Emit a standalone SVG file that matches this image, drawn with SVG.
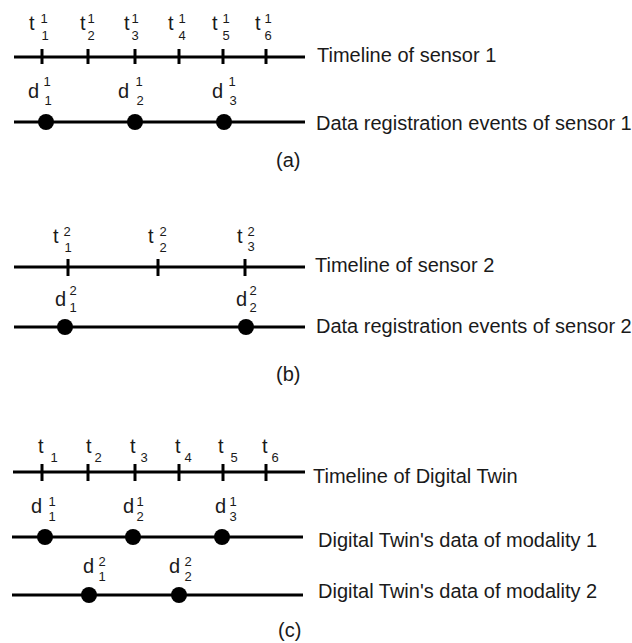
<svg xmlns="http://www.w3.org/2000/svg" width="632" height="643" viewBox="0 0 632 643">
<style>
.ln{stroke:#000;stroke-width:3;fill:none}
.tk{stroke:#000;stroke-width:3}
.dot{fill:#000}
.lab{font-family:"Liberation Sans",Arial,sans-serif;font-size:20px;fill:#1a1a1a}
.big{font-family:"Liberation Sans",Arial,sans-serif;font-size:20px;fill:#1a1a1a}
.idx{font-family:"Liberation Sans",Arial,sans-serif;font-size:13px;fill:#1a1a1a;text-anchor:middle}
</style>
<rect width="632" height="643" fill="#fff"/>
<g id="connectors">
<line class="ln" x1="14" y1="57" x2="305" y2="57"/>
<line class="ln" x1="14" y1="122" x2="305" y2="122"/>
<line class="ln" x1="14" y1="267" x2="305" y2="267"/>
<line class="ln" x1="14" y1="327" x2="305" y2="327"/>
<line class="ln" x1="13" y1="472" x2="305" y2="472"/>
<line class="ln" x1="12" y1="537" x2="303" y2="537"/>
<line class="ln" x1="12" y1="595" x2="303" y2="595"/>
</g>
<g id="panel-a">
<g id="a-ticks">
<line class="tk" x1="42" y1="49" x2="42" y2="64"/>
<line class="tk" x1="88" y1="49" x2="88" y2="64"/>
<line class="tk" x1="135" y1="49" x2="135" y2="64"/>
<line class="tk" x1="179" y1="49" x2="179" y2="64"/>
<line class="tk" x1="223" y1="49" x2="223" y2="64"/>
<line class="tk" x1="266" y1="49" x2="266" y2="64"/>
</g>
<g id="a-tlabels">
<text class="lab" x="29" y="30">t</text><text class="idx" x="44" y="23">1</text><text class="idx" x="45" y="40">1</text>
<text class="lab" x="80" y="30">t</text><text class="idx" x="91" y="23">1</text><text class="idx" x="91" y="40">2</text>
<text class="lab" x="124" y="30">t</text><text class="idx" x="135" y="23">1</text><text class="idx" x="135" y="40">3</text>
<text class="lab" x="168" y="30">t</text><text class="idx" x="182" y="23">1</text><text class="idx" x="182" y="40">4</text>
<text class="lab" x="212" y="30">t</text><text class="idx" x="226" y="23">1</text><text class="idx" x="226" y="40">5</text>
<text class="lab" x="255" y="30">t</text><text class="idx" x="268" y="23">1</text><text class="idx" x="268" y="40">6</text>
</g>
<g id="a-events">
<circle class="dot" cx="46" cy="122" r="8"/>
<circle class="dot" cx="135" cy="122" r="8"/>
<circle class="dot" cx="224" cy="122" r="8"/>
<text class="lab" x="28" y="98">d</text><text class="idx" x="47" y="86">1</text><text class="idx" x="48" y="105">1</text>
<text class="lab" x="118" y="98">d</text><text class="idx" x="139" y="86">1</text><text class="idx" x="140" y="105">2</text>
<text class="lab" x="212" y="98">d</text><text class="idx" x="232" y="86">1</text><text class="idx" x="233" y="105">3</text>
</g>
<text class="big" x="317" y="62">Timeline of sensor 1</text>
<text class="big" x="316" y="130">Data registration events of sensor 1</text>
<text class="big" x="276" y="167">(a)</text>
</g>
<g id="panel-b">
<g id="b-ticks">
<line class="tk" x1="68" y1="259" x2="68" y2="276"/>
<line class="tk" x1="158" y1="259" x2="158" y2="276"/>
<line class="tk" x1="245" y1="259" x2="245" y2="276"/>
</g>
<g id="b-tlabels">
<text class="lab" x="53" y="243">t</text><text class="idx" x="67" y="236">2</text><text class="idx" x="68" y="252">1</text>
<text class="lab" x="148" y="243">t</text><text class="idx" x="163" y="236">2</text><text class="idx" x="163" y="252">2</text>
<text class="lab" x="237" y="243">t</text><text class="idx" x="251" y="236">2</text><text class="idx" x="251" y="251">3</text>
</g>
<g id="b-events">
<circle class="dot" cx="65" cy="327" r="8"/>
<circle class="dot" cx="246" cy="327" r="8"/>
<text class="lab" x="55" y="306">d</text><text class="idx" x="73" y="295">2</text><text class="idx" x="73" y="312">1</text>
<text class="lab" x="236" y="306">d</text><text class="idx" x="253" y="295">2</text><text class="idx" x="253" y="312">2</text>
</g>
<text class="big" x="315" y="272">Timeline of sensor 2</text>
<text class="big" x="316" y="333">Data registration events of sensor 2</text>
<text class="big" x="276" y="381">(b)</text>
</g>
<g id="panel-c">
<g id="c-ticks">
<line class="tk" x1="42" y1="464" x2="42" y2="481"/>
<line class="tk" x1="88" y1="464" x2="88" y2="481"/>
<line class="tk" x1="135" y1="464" x2="135" y2="481"/>
<line class="tk" x1="179" y1="464" x2="179" y2="481"/>
<line class="tk" x1="223" y1="464" x2="223" y2="481"/>
<line class="tk" x1="266" y1="464" x2="266" y2="481"/>
</g>
<g id="c-tlabels">
<text class="lab" x="38" y="453">t</text><text class="idx" x="54" y="462">1</text>
<text class="lab" x="86" y="453">t</text><text class="idx" x="98" y="462">2</text>
<text class="lab" x="130" y="453">t</text><text class="idx" x="144" y="462">3</text>
<text class="lab" x="175" y="453">t</text><text class="idx" x="188" y="462">4</text>
<text class="lab" x="218" y="453">t</text><text class="idx" x="234" y="462">5</text>
<text class="lab" x="262" y="453">t</text><text class="idx" x="275" y="462">6</text>
</g>
<g id="c-mod1">
<circle class="dot" cx="45" cy="537" r="8"/>
<circle class="dot" cx="133" cy="537" r="8"/>
<circle class="dot" cx="222" cy="537" r="8"/>
<text class="lab" x="31" y="513">d</text><text class="idx" x="52" y="506">1</text><text class="idx" x="52" y="521">1</text>
<text class="lab" x="123" y="513">d</text><text class="idx" x="140" y="506">1</text><text class="idx" x="140" y="521">2</text>
<text class="lab" x="215" y="513">d</text><text class="idx" x="233" y="506">1</text><text class="idx" x="233" y="521">3</text>
</g>
<g id="c-mod2">
<circle class="dot" cx="89" cy="595" r="8"/>
<circle class="dot" cx="179" cy="595" r="8"/>
<text class="lab" x="83" y="573">d</text><text class="idx" x="102" y="566">2</text><text class="idx" x="102" y="581">1</text>
<text class="lab" x="169" y="573">d</text><text class="idx" x="188" y="566">2</text><text class="idx" x="188" y="581">2</text>
</g>
<text class="big" x="313" y="483">Timeline of Digital Twin</text>
<text class="big" x="318" y="547">Digital Twin's data of modality 1</text>
<text class="big" x="318" y="598">Digital Twin's data of modality 2</text>
<text class="big" x="278" y="637">(c)</text>
</g>
</svg>
